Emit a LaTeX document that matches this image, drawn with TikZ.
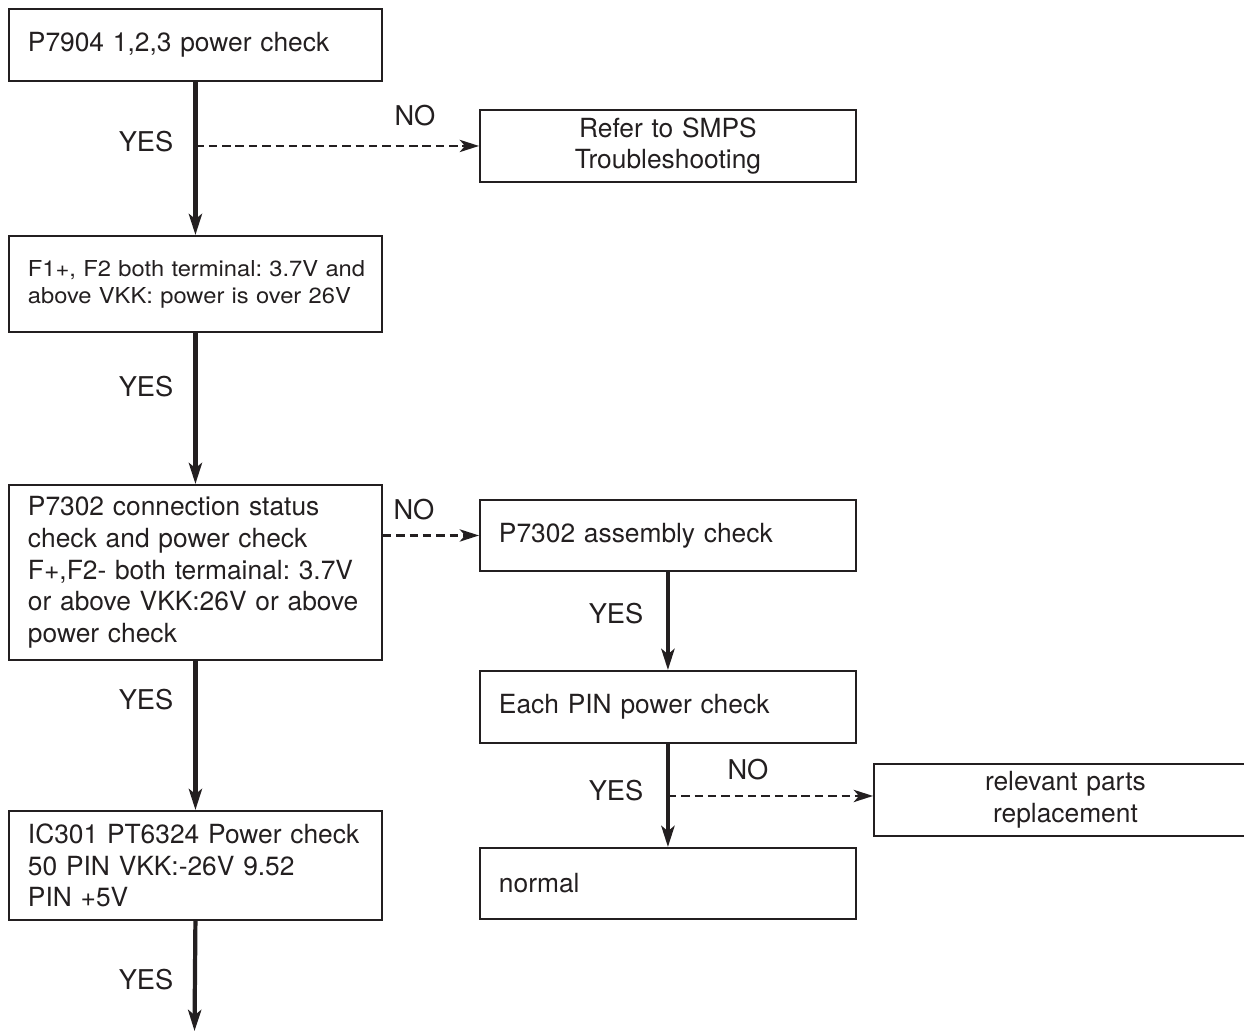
\documentclass[tikz,border=0pt]{standalone}
\usepackage{fontspec}
\setmainfont{TeX Gyre Heros}
\usetikzlibrary{arrows.meta, positioning, calc}
\definecolor{inkblack}{RGB}{35,31,32}
\frenchspacing

\begin{document}
\begin{tikzpicture}[x=0.02cm, y=-0.02cm,
    font=\fontsize{15}{18.1}\selectfont, inkblack,
    box/.style={draw, line width=1.1pt, anchor=north west, align=left,
      inner xsep=0.38cm, inner ysep=0pt, text width=6.70cm, minimum height=1.44cm},
    rbox/.style={box, text width=6.76cm},
    smallbox/.style={box, font=\fontsize{12.5}{15.3}\selectfont\addfontfeatures{FakeStretch=1.08}},
    yesarrow/.style={line width=2.4pt, -{Stealth[length=12pt, width=7.5pt, inset=3pt]}},
    noarrow/.style={line width=1.3pt, dash pattern=on 4.8pt off 2.8pt,
      -{Stealth[length=11pt, width=7pt, inset=3pt]}},
    lbl/.style={inner sep=0pt, font=\fontsize{15.5}{18}\selectfont}]
  \useasboundingbox (0,0) rectangle (1244,1032);

  % Left column
  \node[smallbox, minimum height=1.92cm] (f1) at (8,235)
    {\mbox{F1+, F2 both terminal: 3.7V and}\\above VKK: power is over 26V};
  \node[box] (p7904) at (8,8) {P7904 1,2,3 power check};
  \node[box, minimum height=3.5cm] (p7302) at (8,484)
    {P7302 connection status\\check and power check\\F+,F2- both termainal: 3.7V\\or above VKK:26V or above\\power check};
  \node[box, minimum height=2.18cm] (ic301) at (8,810)
    {IC301 PT6324 Power check\\50 PIN VKK:-26V 9.52\\PIN +5V};
  \coordinate (endpt) at (194.5,1031);

  % Right column
  \node[rbox, align=center] (smps) at (479,109) {Refer to SMPS\\Troubleshooting};
  \node[rbox, minimum height=1.42cm] (assy) at (479,499) {P7302 assembly check};
  \node[rbox] (eachpin) at (479,670) {Each PIN power check};
  \node[rbox, minimum height=1.42cm] (normal) at (479,847) {normal};
  \node[box, align=center, text width=6.90cm] (parts) at (873,763)
    {relevant parts\\replacement};

  % YES connectors
  \draw[yesarrow] (p7904.south) -- (f1.north);
  \draw[yesarrow] (f1.south) -- (p7302.north);
  \draw[yesarrow] (p7302.south) -- (ic301.north);
  \draw[yesarrow] (ic301.south) -- (endpt);
  \draw[yesarrow] (assy.south) -- (eachpin.north);
  \draw[yesarrow] (eachpin.south) -- (normal.north);

  % NO connectors
  \draw[noarrow] (smps.west -| p7904.south) -- (smps.west);
  \draw[noarrow] (assy.west -| p7302.east) -- (assy.west);
  \draw[noarrow] ($(parts.west -| eachpin.south)+(0,-4)$) -- ($(parts.west)+(0,-4)$);

  % Labels
  \node[lbl] (yes1) at (146,142) {YES};
  \node[lbl] (yes2) at (146,387) {YES};
  \node[lbl] (yes3) at (146,700) {YES};
  \node[lbl] (yes4) at (146,980) {YES};
  \node[lbl] (yes5) at (616,614) {YES};
  \node[lbl] (yes6) at (616,791) {YES};
  \node[lbl] (no1) at (415,116) {NO};
  \node[lbl] (no2) at (414,510) {NO};
  \node[lbl] (no3) at (748,770) {NO};
\end{tikzpicture}
\end{document}
